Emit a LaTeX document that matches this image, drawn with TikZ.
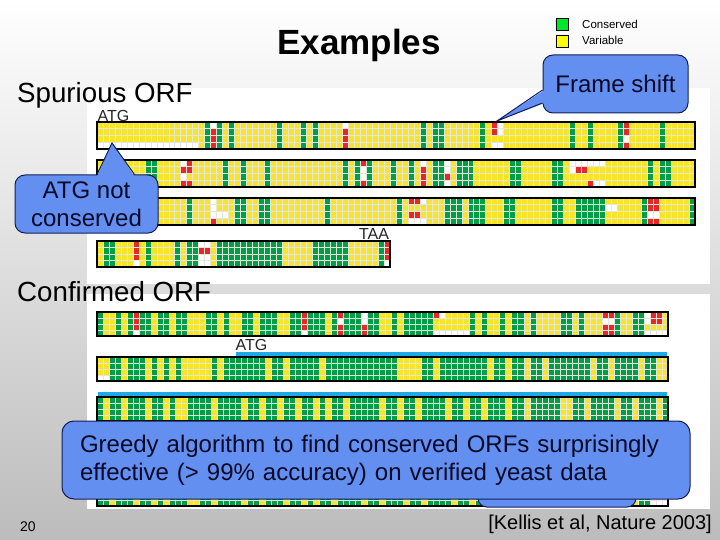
\documentclass[tikz,border=0pt]{standalone}
\usepackage{fontspec}
\setmainfont{Liberation Sans}
\usetikzlibrary{calc}

\definecolor{celly}{RGB}{247,228,45}
\definecolor{cellg}{RGB}{0,158,72}
\definecolor{cellr}{RGB}{232,40,40}
\definecolor{cellw}{RGB}{255,255,255}
\definecolor{gridc}{RGB}{230,230,218}
\definecolor{cfill}{RGB}{98,143,240}
\definecolor{cline}{RGB}{20,30,90}
\definecolor{ctext}{RGB}{10,10,40}
\definecolor{bgbot}{RGB}{188,188,188}
\definecolor{bluelinec}{RGB}{30,170,230}
\definecolor{leggreen}{RGB}{0,230,40}
\definecolor{legyellow}{RGB}{255,255,0}

\newcount\sbcol
\def\sbparse#1#2#3#4#5\relax{%
  \if x#2\def\sbra{#1}\def\sbrb{#1}\def\sbrc{#1}\def\sbrd{#1}%
  \else\def\sbra{#1}\def\sbrb{#2}\def\sbrc{#3}\def\sbrd{#4}\fi}

% x0, y0, width, height, ncols, runs
\newcommand{\seqbar}[6]{%
  \pgfmathsetmacro\sbw{#3/#5}%
  \pgfmathsetmacro\sbh{#4/4}%
  \global\sbcol=0\relax
  \foreach \sbn/\sbcode in {#6}{%
    \expandafter\sbparse\sbcode xxx\relax
    \pgfmathsetmacro\sbxa{#1+\the\sbcol*\sbw}%
    \global\advance\sbcol by \sbn\relax
    \pgfmathsetmacro\sbxb{#1+\the\sbcol*\sbw}%
    \fill[cell\sbra] (\sbxa,#2) rectangle (\sbxb,{#2+\sbh});
    \fill[cell\sbrb] (\sbxa,{#2+\sbh}) rectangle (\sbxb,{#2+2*\sbh});
    \fill[cell\sbrc] (\sbxa,{#2+2*\sbh}) rectangle (\sbxb,{#2+3*\sbh});
    \fill[cell\sbrd] (\sbxa,{#2+3*\sbh}) rectangle (\sbxb,{#2+4*\sbh});
  }%
  \pgfmathtruncatemacro\sblast{#5-1}%
  \foreach \sbi in {1,...,\sblast}{\draw[gridln] ({#1+\sbi*\sbw},#2) -- ++(0,#4);}%
  \foreach \sbj in {1,2,3}{\draw[gridln] (#1,{#2+\sbj*\sbh}) -- ++(#3,0);}%
  \draw[barborder] (#1,#2) rectangle ++(#3,#4);
}

\tikzset{
  calloutbody/.style={draw=cline, line width=1pt, fill=cfill, rounded corners=10pt,
     text=ctext, font=\fontsize{24}{28}\selectfont, inner sep=0pt},
  gridln/.style={draw=gridc, line width=0.5pt},
  barborder/.style={draw=black, line width=2.4pt},
  seqlabel/.style={font=\fontsize{16}{18}\selectfont, inner sep=0pt, text=black!85},
  headlabel/.style={font=\fontsize{27.7}{32}\selectfont, inner sep=0pt, anchor=west},
  legbox/.style={draw=black, line width=0.6pt, minimum size=12pt, inner sep=0pt},
  leglabel/.style={font=\fontsize{11.5}{13}\selectfont, inner sep=0pt, anchor=west},
  orfline/.style={draw=bluelinec, line width=4pt}
}

\begin{document}
\begin{tikzpicture}[x=1pt,y=-1pt]
\useasboundingbox (0,0) rectangle (720,540);
% background
\shade[top color=white, bottom color=bgbot] (0,0) rectangle (720,540);
\fill[white] (87,88) rectangle (710,284);
\fill[white] (87,294) rectangle (710,509);

% ---- Spurious ORF bars
\seqbar{97}{122}{598}{27}{100}{17/yyyw, 1/y, 1/g, 1/wrrr, 1/g, 1/y, 1/g, 7/y, 1/g, 3/y, 1/g, 1/y, 1/g, 4/y, 1/wrrr, 12/y, 1/g, 1/y, 2/g, 6/y, 1/g, 1/y, 1/rryw, 1/wwyw, 11/y, 1/g, 2/y, 1/g, 4/y, 1/g, 1/rrwr, 5/y, 1/g, 5/y}
\seqbar{97}{160}{598}{27}{100}{8/y, 2/g, 4/y, 1/wrwr, 1/rryr, 5/y, 1/g, 2/y, 1/g, 3/y, 1/g, 12/y, 1/g, 1/y, 1/g, 1/rwwr, 1/g, 3/y, 1/g, 2/y, 1/g, 1/y, 1/wrrr, 1/y, 2/g, 1/wwrw, 1/y, 3/g, 6/y, 2/g, 5/y, 2/g, 1/y, 1/wwyy, 2/wryy, 1/wyyr, 2/wyyw, 7/y, 1/g, 1/y, 2/g, 4/y}
\seqbar{97}{198}{598}{27}{100}{15/y, 1/g, 3/y, 1/wwwr, 2/yywy, 1/y, 2/g, 2/y, 2/g, 9/y, 1/g, 11/y, 1/g, 1/y, 2/ryrw, 1/wyyw, 3/y, 3/g, 1/y, 3/g, 3/y, 2/g, 6/y, 2/g, 2/y, 5/g, 2/ywyy, 4/y, 1/g, 2/rrwr, 5/y, 1/g}
\seqbar{97}{241}{293}{26}{49}{1/y, 2/g, 3/y, 1/rrrw, 1/y, 1/g, 4/y, 1/g, 1/y, 2/g, 2/wrww, 1/y, 11/g, 5/y, 6/g, 5/y, 1/g, 1/rrrw}

% ---- Confirmed ORF bars
\seqbar{97}{312}{571}{24}{95}{1/g, 2/y, 1/g, 1/y, 1/g, 1/rrrw, 2/g, 1/y, 2/g, 1/y, 2/g, 3/y, 2/g, 1/y, 1/g, 2/y, 2/g, 1/y, 3/g, 2/y, 2/g, 1/rrrw, 3/g, 1/y, 1/g, 1/rwrr, 3/g, 1/wwrr, 2/g, 2/y, 1/g, 1/y, 5/g, 1/ryyw, 1/wyyw, 4/yyyw, 1/g, 1/y, 1/g, 2/y, 1/g, 1/y, 2/g, 1/y, 1/g, 4/y, 2/g, 1/y, 1/g, 3/y, 2/rwrr, 1/g, 2/y, 2/g, 1/wwyw, 2/rryw, 1/yyyw}
\seqbar{97}{357}{571}{24}{95}{2/yyyw, 2/g, 1/y, 3/g, 1/y, 1/g, 1/y, 1/g, 1/y, 1/g, 5/y, 1/g, 1/y, 7/g, 1/y, 2/g, 1/y, 5/g, 1/y, 12/g, 4/y, 2/g, 1/y, 8/g, 1/y, 2/g, 1/y, 2/g, 1/y, 2/g, 1/y, 7/g, 1/y, 2/g, 1/y, 4/g, 1/y, 2/g, 2/y}
\seqbar{97}{397}{571}{24}{95}{1/g, 1/y, 2/g, 1/y, 3/g, 1/y, 2/g, 1/y, 1/g, 2/y, 4/g, 1/y, 4/g, 1/y, 2/g, 1/y, 2/g, 1/y, 2/g, 1/y, 2/g, 1/y, 1/g, 1/y, 2/g, 1/y, 5/g, 1/y, 2/g, 1/y, 2/g, 1/y, 4/g, 1/y, 2/g, 1/y, 2/g, 1/y, 3/g, 1/y, 2/g, 1/y, 5/g, 2/y, 2/g, 1/y, 4/g, 1/y, 2/g, 1/y, 3/g, 1/y, 1/g}
\seqbar{97}{482}{571}{24}{95}{2/g, 1/y, 3/g, 1/y, 2/g, 1/y, 1/g, 1/y, 3/g, 2/y, 2/g, 1/y, 4/g, 1/y, 2/g, 1/y, 3/g, 1/y, 2/g, 1/y, 1/g, 1/y, 2/g, 1/y, 4/g, 1/y, 2/g, 1/y, 3/g, 1/y, 2/g, 1/y, 4/g, 1/y, 2/g, 1/y, 2/g, 1/y, 3/g, 1/y, 2/g, 1/y, 5/g, 2/y, 2/g, 1/y, 3/g, 1/y, 2/g, 1/y, 2/g}

% ORF lines
\draw[orfline] (236,354) -- (667,354);
\draw[orfline] (98,394) -- (667,394);

% labels on sequences
\node[seqlabel] (atgA) at (113.5,116) {ATG};
\node[seqlabel] (taa) at (374,234) {TAA};
\node[seqlabel] (atgB) at (251.5,345) {ATG};

% headings
\node[font=\bfseries\fontsize{35}{40}\selectfont, inner sep=0pt] (title) at (359,45) {Examples};
\node[headlabel] (spur) at (17,95) {Spurious ORF};
\node[headlabel] (conf) at (17,292) {Confirmed ORF};

% legend
\node[legbox, fill=leggreen] (lgg) at (562,24) {};
\node[legbox, fill=legyellow] (lgy) at (562,41) {};
\node[leglabel] (lgc) at (582,24) {Conserved};
\node[leglabel] (lgv) at (582,40) {Variable};

% Frame shift callout
\coordinate (fstip) at (497,121);
\node[calloutbody, minimum width=145pt, minimum height=58pt] (fs) at (615.5,84) {Frame shift};
\fill[cfill] ([yshift=-6pt,xshift=2pt]fs.west) -- (fstip) -- ([yshift=-19pt,xshift=2pt]fs.west) -- cycle;
\draw[cline, line width=1pt, line join=miter] ([yshift=-6pt]fs.west) -- (fstip) -- ([yshift=-19pt]fs.west);

% ATG not conserved callout
\coordinate (actip) at (112,143);
\node[calloutbody, minimum width=143pt, minimum height=58pt, align=center] (ac) at (86.5,204) {ATG not\\conserved};
\fill[cfill] ([xshift=10.5pt,yshift=-2pt]ac.north) -- (actip) -- ([xshift=48pt,yshift=-2pt]ac.north) -- cycle;
\draw[cline, line width=1pt, line join=miter] ([xshift=10.5pt]ac.north) -- (actip) -- ([xshift=48pt]ac.north);

% bottom callout
\draw[cline, line width=1pt, fill=cfill, rounded corners=9pt] (478,470) rectangle (636,507);
\node[calloutbody, rounded corners=12pt, minimum width=628pt, minimum height=78pt, text width=592pt, inner xsep=18pt, align=left] (greedy) at (376,460) {Greedy algorithm to find conserved ORFs surprisingly\\effective (> 99\% accuracy) on verified yeast data};

% footer
\node[font=\fontsize{14}{16}\selectfont, inner sep=0pt] (pnum) at (28,527) {20};
\node[font=\fontsize{20}{24}\selectfont, inner sep=0pt, anchor=east] (refn) at (712,524) {[Kellis et al, Nature 2003]};
\end{tikzpicture}
\end{document}
